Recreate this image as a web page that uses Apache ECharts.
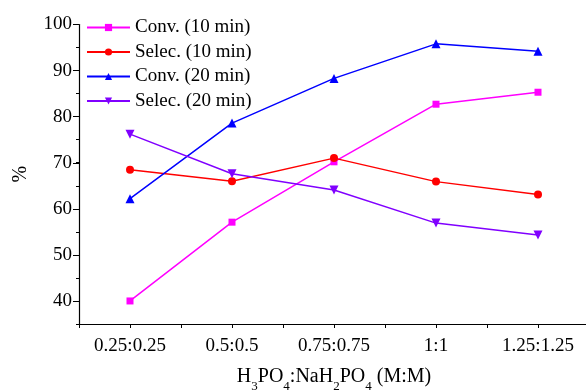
<!DOCTYPE html>
<html>
<head>
<meta charset="utf-8">
<script src="https://cdn.jsdelivr.net/npm/echarts@6/dist/echarts.min.js"></script>
<style>
  html, body { margin: 0; padding: 0; background: #fff; }
  #chart { width: 586px; height: 392px; }
</style>
</head>
<body>
<div id="chart"></div>
<script>
// ratio categories (x) and the four measured series (%)
const categories = ['0.25:0.25', '0.5:0.5', '0.75:0.75', '1:1', '1.25:1.25'];
const convTen = [40.0, 57.1, 70.2, 82.7, 85.3];
const selecTen = [68.5, 66.0, 71.0, 65.9, 63.1];
const convTwenty = [62.2, 78.6, 88.3, 95.8, 94.2];
const selecTwenty = [76.2, 67.6, 64.1, 56.9, 54.3];
const yTickLabels = [40, 50, 60, 70, 80, 90, 100];

const FONT = '"Liberation Serif", "Times New Roman", serif';

// x is a value axis so ticks land both on the points and halfway between
const toPairs = (arr) => arr.map((v, i) => [i + 1, v]);

const chart = echarts.init(document.getElementById('chart'));

const mkSeries = (name, data, color, symbol, size, rotate) => ({
  name,
  type: 'line',
  xAxisIndex: 0,
  yAxisIndex: 0,
  data: toPairs(data),
  symbol,
  symbolSize: size,
  symbolRotate: rotate || 0,
  itemStyle: { color },
  lineStyle: { color, width: 1.5 },
  emphasis: { disabled: true },
  animation: false,
});

chart.setOption({
  animation: false,
  textStyle: { fontFamily: FONT },
  grid: [
    { left: 79, top: 24.5, width: 510, height: 299.5, outerBoundsMode: 'none' },
    // second grid only carries the long ticks + labels (40..100)
    { left: 79, top: 24.5, width: 510, height: 276.5, outerBoundsMode: 'none' },
  ],
  legend: {
    orient: 'vertical',
    left: 86,
    top: 17.5,
    padding: 0,
    itemWidth: 43,
    itemHeight: 9,
    itemGap: 4.5,
    textStyle: { fontFamily: FONT, fontSize: 19, color: '#000', lineHeight: 20 },
    data: ['Conv. (10 min)', 'Selec. (10 min)', 'Conv. (20 min)', 'Selec. (20 min)'],
  },
  xAxis: [
    {
      gridIndex: 0,
      type: 'value',
      min: 0.5,
      max: 5.5,
      interval: 0.5,
      splitLine: { show: false },
      axisLine: { lineStyle: { color: '#000', width: 1.2 } },
      axisTick: { length: 4, lineStyle: { color: '#000' } },
      axisLabel: {
        color: '#000',
        fontFamily: FONT,
        fontSize: 19,
        margin: 13,
        showMinLabel: true,
        showMaxLabel: true,
        formatter: (v) => (Number.isInteger(v) && v >= 1 && v <= categories.length ? categories[v - 1] : ''),
      },
      name: '{n|H}{s|3}{n|PO}{s|4}{n|:NaH}{s|2}{n|PO}{s|4}{n| (M:M)}',
      nameLocation: 'middle',
      nameGap: 41,
      nameTextStyle: {
        rich: {
          n: { fontFamily: FONT, fontSize: 20, color: '#000', lineHeight: 22, verticalAlign: 'bottom' },
          s: { fontFamily: FONT, fontSize: 13, color: '#000', lineHeight: 13, padding: [0, 0, -6, 0], verticalAlign: 'bottom' },
        },
      },
    },
    { gridIndex: 1, type: 'value', min: 0.5, max: 5.5, show: false },
  ],
  yAxis: [
    {
      gridIndex: 0,
      type: 'value',
      min: 35,
      max: 100,
      interval: 5,
      splitLine: { show: false },
      axisLine: { show: true, lineStyle: { color: '#000', width: 1.2 } },
      axisTick: { length: 3, lineStyle: { color: '#000' } },
      axisLabel: { show: false },
      name: '%',
      nameLocation: 'middle',
      nameGap: 48,
      nameTextStyle: { fontFamily: FONT, fontSize: 20, color: '#000' },
    },
    {
      gridIndex: 1,
      type: 'value',
      min: yTickLabels[0],
      max: yTickLabels[yTickLabels.length - 1],
      interval: 10,
      splitLine: { show: false },
      axisLine: { show: false },
      axisTick: { show: true, length: 6, lineStyle: { color: '#000' } },
      axisLabel: { color: '#000', fontFamily: FONT, fontSize: 19, margin: 7 },
    },
  ],
  series: [
    mkSeries('Conv. (10 min)', convTen, '#ff00ff', 'rect', 7),
    mkSeries('Selec. (10 min)', selecTen, '#ff0000', 'circle', 8),
    mkSeries('Conv. (20 min)', convTwenty, '#0000ff', 'triangle', 9),
    mkSeries('Selec. (20 min)', selecTwenty, '#8000ff', 'triangle', 9, 180),
  ],
});
</script>
</body>
</html>
